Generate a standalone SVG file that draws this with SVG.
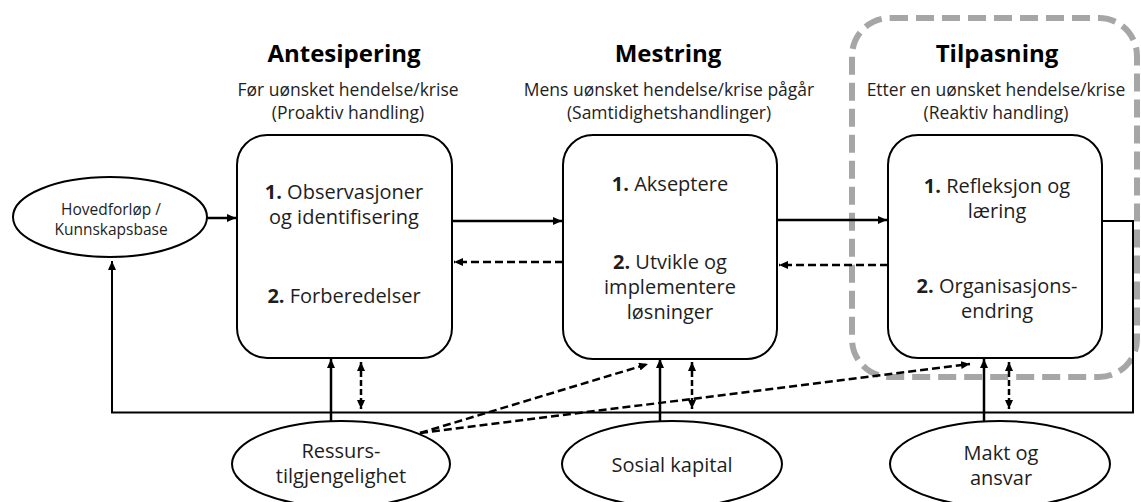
<svg xmlns="http://www.w3.org/2000/svg" width="1141" height="502" viewBox="0 0 1141 502">
  <style>
    text { font-family: "Open Sans", "Noto Sans", sans-serif; fill: #1e1e1e; text-anchor: middle; }
    .title { font-size: 24px; font-weight: bold; fill: #000; }
    .sub { font-size: 17.5px; }
    .box { fill: #fff; stroke: #000; stroke-width: 2; }
    .ell { fill: #fff; stroke: #000; stroke-width: 2; }
    .body { font-size: 20px; }
    .small { font-size: 15.5px; }
    .num { font-weight: bold; }
    .solid { fill: none; stroke: #000; stroke-width: 2.5; marker-end: url(#ah); }
    .dash { fill: none; stroke: #000; stroke-width: 2.5; stroke-dasharray: 8 4; marker-end: url(#ah); }
    .dash2 { fill: none; stroke: #000; stroke-width: 2.5; stroke-dasharray: 6 3; marker-start: url(#ah); marker-end: url(#ah); }
    .loop { fill: none; stroke: #000; stroke-width: 2; marker-end: url(#ah); }
  </style>
  <defs>
    <marker id="ah" markerUnits="userSpaceOnUse" markerWidth="10" markerHeight="10" refX="9" refY="4" orient="auto-start-reverse">
      <path d="M0,0 L9,4 L0,8 z" fill="#000"/>
    </marker>
  </defs>

  <rect width="1141" height="502" fill="#fff"/>

  <!-- phase frame around the adaptation stage -->
  <rect id="frame" x="852" y="18" width="285" height="359" rx="38" fill="none" stroke="#a6a6a6" stroke-width="6" stroke-dasharray="18 8"/>

  <!-- phase headings -->
  <g id="heading-antesipering">
    <text class="title" x="344" y="62">Antesipering</text>
    <text class="sub" x="348" y="96">Før uønsket hendelse/krise<tspan x="348" dy="23">(Proaktiv handling)</tspan></text>
  </g>
  <g id="heading-mestring">
    <text class="title" x="668" y="62">Mestring</text>
    <text class="sub" x="669" y="96">Mens uønsket hendelse/krise pågår<tspan x="669" dy="23">(Samtidighetshandlinger)</tspan></text>
  </g>
  <g id="heading-tilpasning">
    <text class="title" x="997" y="62">Tilpasning</text>
    <text class="sub" x="996" y="96">Etter en uønsket hendelse/krise<tspan x="996" dy="23">(Reaktiv handling)</tspan></text>
  </g>

  <!-- connectors -->
  <g id="connectors">
    <line class="solid" x1="207" y1="218" x2="236" y2="218"/>
    <line class="solid" x1="452" y1="221" x2="562" y2="221"/>
    <line class="dash" x1="563" y1="262" x2="454" y2="262"/>
    <line class="solid" x1="777" y1="220" x2="887" y2="220"/>
    <line class="dash" x1="888" y1="265" x2="779" y2="265"/>
    <!-- feedback loop back to the knowledge base -->
    <polyline class="loop" points="1102,221 1133,221 1133,412.5 112,412.5 112,261"/>
    <!-- supporting factors feeding each phase -->
    <line class="solid" x1="331" y1="421" x2="331" y2="359"/>
    <line class="dash2" x1="361" y1="362" x2="361" y2="409"/>
    <line class="solid" x1="660" y1="421" x2="660" y2="359"/>
    <line class="dash2" x1="692" y1="362" x2="692" y2="409"/>
    <line class="solid" x1="984" y1="421" x2="984" y2="359"/>
    <line class="dash2" x1="1009" y1="362" x2="1009" y2="409"/>
    <line class="dash" x1="420" y1="433" x2="648" y2="364"/>
    <line class="dash" x1="420" y1="433" x2="970" y2="364"/>
  </g>

  <g id="node-kunnskapsbase">
    <ellipse class="ell" cx="110" cy="217" rx="97" ry="40"/>
    <text class="small" x="111" y="215">Hovedforløp /<tspan x="111" dy="20">Kunnskapsbase</tspan></text>
  </g>

  <g id="node-antesipering">
    <rect class="box" x="237" y="135" width="215" height="223" rx="30"/>
    <text class="body" x="344" y="199"><tspan class="num">1.</tspan> Observasjoner<tspan x="344" dy="25">og identifisering</tspan></text>
    <text class="body" x="344" y="303"><tspan class="num">2.</tspan> Forberedelser</text>
  </g>

  <g id="node-mestring">
    <rect class="box" x="563" y="135" width="214" height="224" rx="30"/>
    <text class="body" x="670" y="191"><tspan class="num">1.</tspan> Akseptere</text>
    <text class="body" x="670" y="269"><tspan class="num">2.</tspan> Utvikle og<tspan x="670" dy="25">implementere</tspan><tspan x="670" dy="25">løsninger</tspan></text>
  </g>

  <g id="node-tilpasning">
    <rect class="box" x="888" y="135" width="214" height="223" rx="30"/>
    <text class="body" x="997" y="193"><tspan class="num">1.</tspan> Refleksjon og<tspan x="997" dy="25">læring</tspan></text>
    <text class="body" x="997" y="293"><tspan class="num">2.</tspan> Organisasjons-<tspan x="997" dy="25">endring</tspan></text>
  </g>

  <g id="node-ressurs">
    <ellipse class="ell" cx="341" cy="464" rx="109" ry="43"/>
    <text class="body" x="341" y="458">Ressurs-<tspan x="341" dy="25">tilgjengelighet</tspan></text>
  </g>

  <g id="node-sosial">
    <ellipse class="ell" cx="672" cy="464" rx="110" ry="43"/>
    <text class="body" x="672" y="472">Sosial kapital</text>
  </g>

  <g id="node-makt">
    <ellipse class="ell" cx="1000" cy="464" rx="110" ry="43"/>
    <text class="body" x="1001" y="460">Makt og<tspan x="1001" dy="25">ansvar</tspan></text>
  </g>
</svg>
